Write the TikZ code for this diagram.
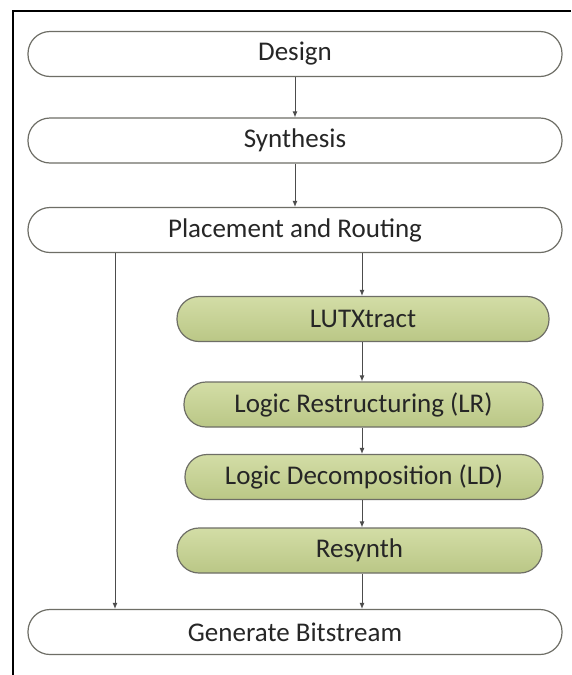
\documentclass[tikz,border=0pt]{standalone}
\usepackage{fontspec}
\setmainfont{Carlito}
\usepackage{tikz}
\usetikzlibrary{arrows.meta, positioning}
\definecolor{stagegreenlt}{HTML}{D3DDA6}
\definecolor{stagegreendk}{HTML}{BAC786}
\definecolor{edgegray}{HTML}{6E6E66}

\begin{document}
\begin{tikzpicture}[
    x=1pt, y=-1pt,
    flowbox/.style={rectangle, rounded corners=22pt, draw=edgegray, line width=1.2pt, minimum width=534pt, minimum height=45pt, font=\fontsize{27}{30}\selectfont, text=black!85, inner sep=0pt},
    subbox/.style={flowbox, top color=stagegreenlt, bottom color=stagegreendk},
    arrow/.style={-{Latex[length=6pt, width=5pt]}, line width=0.9pt, black!70}
]
\useasboundingbox (0,0) rectangle (571,675);
\fill[white] (0,0) rectangle (571,675);
% outer frame
\draw[line width=2.5pt] (13,675) -- (13,11) -- (571,11);

% main flow
\node[flowbox] (design) at (295,54) {Design};
\node[flowbox] (synth) at (295,140.5) {Synthesis};
\node[flowbox] (pnr) at (295,230) {Placement and Routing};

% post-route steps
\node[subbox, minimum width=372pt] (lutx) at (363,319) {LUTXtract};
\node[subbox, minimum width=359pt] (lr) at (363.5,404.5) {Logic Restructuring (LR)};
\node[subbox, minimum width=358pt] (ld) at (364,477) {Logic Decomposition (LD)};
\node[subbox, minimum width=365pt] (resyn) at (359.5,550.5) {Resynth};

\node[flowbox] (bits) at (295,632) {Generate Bitstream};

% arrows
\draw[arrow] (design) -- (synth);
\draw[arrow] (synth) -- (pnr);
\draw[arrow] (pnr.south -| 362,0) -- (lutx.north -| 362,0);
\draw[arrow] (lutx.south -| 362,0) -- (lr.north -| 362,0);
\draw[arrow] (lr.south -| 362,0) -- (ld.north -| 362,0);
\draw[arrow] (ld.south -| 362,0) -- (resyn.north -| 362,0);
\draw[arrow] (resyn.south -| 362,0) -- (bits.north -| 362,0);
\draw[arrow] (pnr.south -| 115,0) -- (bits.north -| 115,0);
\end{tikzpicture}
\end{document}
